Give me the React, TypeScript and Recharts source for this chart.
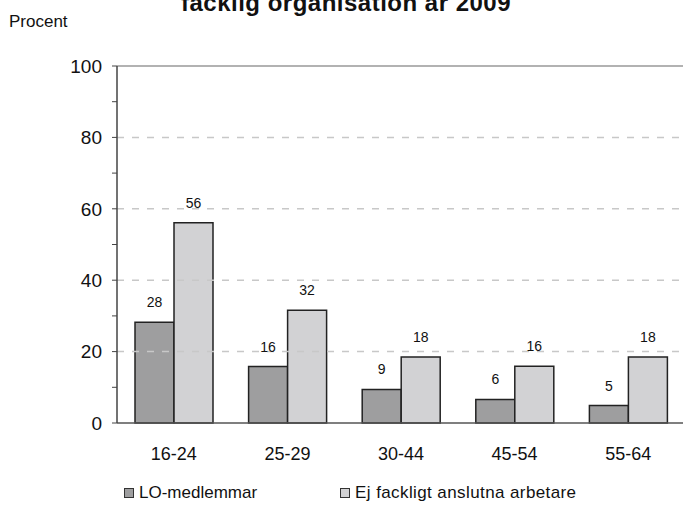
import { BarChart, Bar, XAxis, YAxis, ReferenceLine, LabelList } from "recharts";

const ageGroups = ["16-24", "25-29", "30-44", "45-54", "55-64"];
const loMembers = [28.2, 15.8, 9.4, 6.6, 4.9];
const nonUnion = [56.1, 31.6, 18.5, 15.9, 18.5];
const loLabels = ["28", "16", "9", "6", "5"];
const nonUnionLabels = ["56", "32", "18", "16", "18"];
const yTicks = [0, 10, 20, 30, 40, 50, 60, 70, 80, 90, 100];
const dashedLines = [20, 40, 60, 80];
const seriesNames = ["LO-medlemmar", "Ej fackligt anslutna arbetare"];

const chartData = ageGroups.map((name, i) => ({
  name,
  lo: loMembers[i],
  ej: nonUnion[i],
  loLabel: loLabels[i],
  ejLabel: nonUnionLabels[i],
}));

const font = '"Liberation Sans", Arial, sans-serif';
const darkFill = "#9e9e9f";
const lightFill = "#d2d2d4";

export default function App() {
  return (
    <div
      style={{
        position: "absolute",
        left: 0,
        top: 0,
        width: 683,
        height: 510,
        overflow: "hidden",
        background: "#fff",
        fontFamily: font,
      }}
    >
      <div
        style={{
          position: "absolute",
          left: 0,
          width: 692,
          top: -11,
          textAlign: "center",
          fontWeight: "bold",
          fontSize: 24,
          letterSpacing: 0.5,
          color: "#111",
          whiteSpace: "nowrap",
        }}
      >
        facklig organisation år 2009
      </div>
      <div style={{ position: "absolute", left: 9, top: 12, fontSize: 17, color: "#111" }}>
        Procent
      </div>
      <BarChart
        width={700}
        height={510}
        data={chartData}
        margin={{ top: 66, right: 15, left: 0, bottom: 0 }}
        barGap={0}
        barSize={39}
      >
        {dashedLines.map((v) => (
          <ReferenceLine key={v} y={v} stroke="#c8c8c8" strokeWidth={1.5} strokeDasharray="7 8" />
        ))}
        <ReferenceLine y={100} stroke="#999" strokeWidth={1.5} />
        <XAxis
          dataKey="name"
          height={87}
          tickLine={false}
          axisLine={{ stroke: "#555", strokeWidth: 1.5 }}
          tick={{ fill: "#111", fontSize: 18, fontFamily: font }}
          tickMargin={18}
        />
        <YAxis
          width={117}
          domain={[0, 100]}
          ticks={yTicks}
          interval={0}
          tickFormatter={(v: number) => (v % 20 === 0 ? String(v) : "")}
          axisLine={{ stroke: "#444", strokeWidth: 1.5 }}
          tickLine={{ stroke: "#444" }}
          tickSize={5}
          tickMargin={10}
          tick={{ fill: "#111", fontSize: 19, fontFamily: font }}
        />
        <Bar dataKey="lo" fill={darkFill} stroke="#222" strokeWidth={1.5} isAnimationActive={false}>
          <LabelList dataKey="loLabel" position="top" offset={15} fill="#111" fontSize={14} fontFamily={font} />
        </Bar>
        <Bar dataKey="ej" fill={lightFill} stroke="#222" strokeWidth={1.5} isAnimationActive={false}>
          <LabelList dataKey="ejLabel" position="top" offset={15} fill="#111" fontSize={14} fontFamily={font} />
        </Bar>
      </BarChart>
      <div
        style={{
          position: "absolute",
          top: 483,
          left: 124,
          display: "flex",
          fontSize: 17,
          color: "#111",
          whiteSpace: "nowrap",
        }}
      >
        {seriesNames.map((n, i) => (
          <div
            key={n}
            style={{ display: "flex", alignItems: "center", marginRight: i === 0 ? 83 : 0 }}
          >
            <span
              style={{
                display: "inline-block",
                width: 8,
                height: 8,
                border: "1.5px solid #333",
                background: i === 0 ? darkFill : lightFill,
                marginRight: 5,
              }}
            />
            <span style={{ letterSpacing: i === 1 ? 0.4 : 0 }}>{n}</span>
          </div>
        ))}
      </div>
    </div>
  );
}
